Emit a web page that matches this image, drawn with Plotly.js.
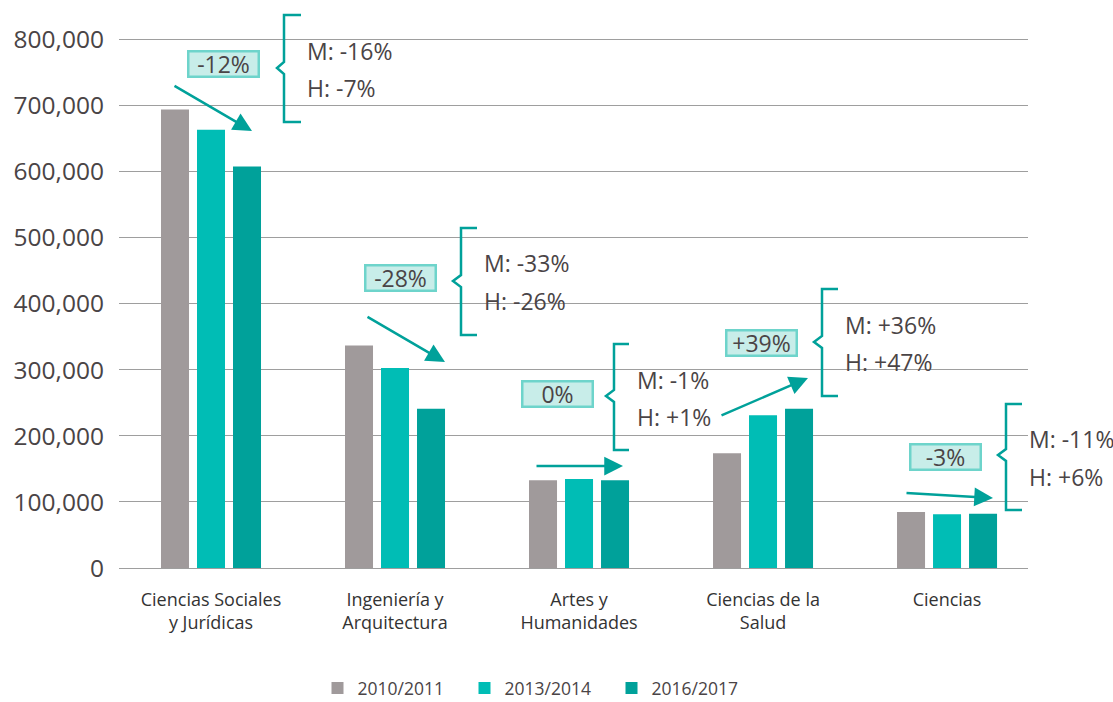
<!DOCTYPE html>
<html>
<head>
<meta charset="utf-8">
<script src="https://cdn.plot.ly/plotly-3.0.1.min.js"></script>
<style>html,body{margin:0;padding:0;background:#fff;}#chart{width:1113px;height:702px;}</style>
</head>
<body>
<div id="chart"></div>
<script>
// ---- data ----
const categories = ["Ciencias Sociales<br>y Jurídicas", "Ingeniería y<br>Arquitectura", "Artes y<br>Humanidades", "Ciencias de la<br>Salud", "Ciencias"];
const seriesNames = ["2010/2011", "2013/2014", "2016/2017"];
const values2010 = [694500, 337000, 132800, 173700, 84800];
const values2013 = [663700, 302800, 134800, 231200, 81300];
const values2016 = [608000, 241300, 132800, 241300, 82000];
const totalChange = ["-12%", "-28%", "0%", "+39%", "-3%"];
const womenChange = ["M: -16%", "M: -33%", "M: -1%", "M: +36%", "M: -11%"];
const menChange = ["H: -7%", "H: -26%", "H: +1%", "H: +47%", "H: +6%"];
const yTicks = [0, 100000, 200000, 300000, 400000, 500000, 600000, 700000, 800000];
const yTickText = ["0", "100,000", "200,000", "300,000", "400,000", "500,000", "600,000", "700,000", "800,000"];

// ---- styles ----
const colors = ["#a09a9b", "#00bdb5", "#00a19a"];
const teal = "#00a19a";
const txt = "#4a4446";
const FONT = "Open Sans, sans-serif";

// plot geometry in pixels
const L = 119, R = 1028, T = 20, B = 568;
const PX = p => (p - L) / (R - L);
const PY = p => (B - p) / (B - T);

const traces = [values2010, values2013, values2016].map((v, i) => ({
  type: "bar",
  name: seriesNames[i],
  x: categories,
  y: v,
  marker: {color: colors[i]},
  hoverinfo: "skip"
}));

// annotation layout (pixels)
const boxes = [[223, 64], [400, 278], [557, 394], [761, 343], [945, 457]];
const arrows = [[173, 85, 252, 131], [366, 316, 445, 362], [535, 466, 623, 466], [720, 416, 808, 378], [905, 493, 993, 498]];
const braces = [
  {x: 284, top: 15, bot: 122, mid: 68, tip: 277, end: 301, tx: 305, my: 51, hy: 88},
  {x: 461, top: 228, bot: 335, mid: 281, tip: 453, end: 477, tx: 482, my: 263, hy: 301},
  {x: 614, top: 344, bot: 450, mid: 396, tip: 606, end: 629, tx: 635, my: 380, hy: 417},
  {x: 822, top: 289, bot: 396, mid: 342, tip: 814, end: 838, tx: 843, my: 325, hy: 362},
  {x: 1006, top: 404, bot: 510, mid: 455, tip: 998, end: 1022, tx: 1027, my: 439, hy: 477}
];

const annotations = [];
const shapes = [];
for (let i = 0; i < 5; i++) {
  const [bx, by] = boxes[i];
  annotations.push({
    xref: "paper", yref: "paper", x: PX(bx), y: PY(by), xanchor: "center", yanchor: "middle",
    text: totalChange[i], showarrow: false, font: {family: FONT, size: 23, color: txt},
    bgcolor: "#c8ede9", bordercolor: "#6ed4cb", borderwidth: 2.5, borderpad: 0, width: 68, height: 23
  });
  const [x0, y0, x1, y1] = arrows[i];
  annotations.push({
    xref: "paper", yref: "paper", x: PX(x1), y: PY(y1), ax: x0 - x1, ay: y0 - y1,
    axref: "pixel", ayref: "pixel", text: "", showarrow: true,
    arrowhead: 2, arrowsize: 1.5, arrowwidth: 2.5, arrowcolor: teal, standoff: 0, startstandoff: 0
  });
  const b = braces[i];
  const pts = [[b.end, b.top], [b.x, b.top], [b.x, b.mid - 6], [b.tip, b.mid], [b.x, b.mid + 6], [b.x, b.bot], [b.end, b.bot]];
  shapes.push({
    type: "path", xref: "paper", yref: "paper",
    path: pts.map((p, k) => (k ? "L" : "M") + PX(p[0]).toFixed(5) + "," + PY(p[1]).toFixed(5)).join(" "),
    line: {color: teal, width: 2.5}
  });
  annotations.push({
    xref: "paper", yref: "paper", x: PX(b.tx), y: PY(b.my), xanchor: "left", yanchor: "middle",
    text: womenChange[i], showarrow: false, font: {family: FONT, size: 23, color: txt}
  });
  annotations.push({
    xref: "paper", yref: "paper", x: PX(b.tx), y: PY(b.hy), xanchor: "left", yanchor: "middle",
    text: menChange[i], showarrow: false, font: {family: FONT, size: 23, color: txt}
  });
}

const layout = {
  width: 1113, height: 702,
  margin: {l: L, r: 1113 - R, t: T, b: 702 - B, pad: 0, autoexpand: false},
  paper_bgcolor: "#fff", plot_bgcolor: "#fff",
  barmode: "group", bargap: 0.413, bargroupgap: 0.222,
  font: {family: FONT, color: txt},
  xaxis: {
    type: "category", range: [-0.5, 4.44], showgrid: false, zeroline: false, showline: false, automargin: false,
    ticks: "", tickfont: {family: FONT, size: 18, color: "#333"}, ticklabelstandoff: 19
  },
  yaxis: {
    range: [0, 830000], tickvals: yTicks, ticktext: yTickText, showgrid: true, gridcolor: "#9e9e9e", gridwidth: 1,
    zeroline: true, zerolinecolor: "#9e9e9e", zerolinewidth: 1, showline: false, ticks: "", automargin: false,
    tickfont: {family: FONT, size: 24.5, color: txt}, ticklabelstandoff: 14
  },
  showlegend: true,
  legend: {
    orientation: "h", x: PX(538), xanchor: "center", y: PY(670), yanchor: "top",
    font: {family: FONT, size: 17.5, color: txt}, entrywidth: 102, entrywidthmode: "pixels", traceorder: "normal"
  },
  annotations: annotations,
  shapes: shapes
};

Plotly.newPlot("chart", traces, layout, {displayModeBar: false, staticPlot: true});
</script>
</body>
</html>
